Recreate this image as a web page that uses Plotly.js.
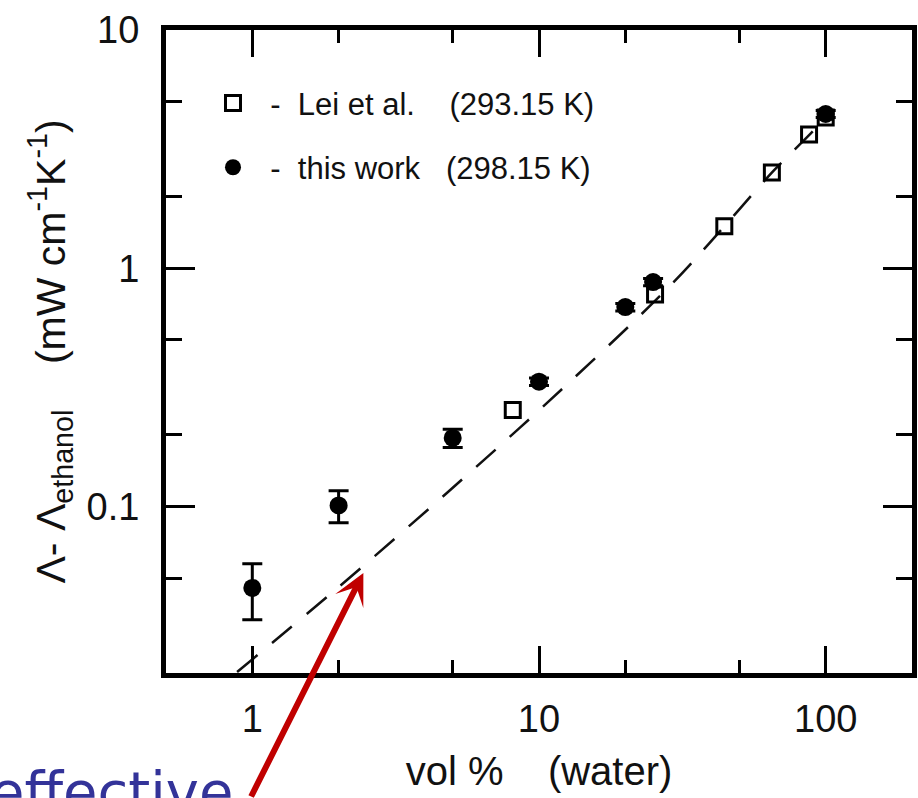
<!DOCTYPE html>
<html>
<head>
<meta charset="utf-8">
<script src="https://cdn.plot.ly/plotly-3.0.1.min.js"></script>
<style>
  html, body { margin: 0; padding: 0; background: #ffffff; }
  #chart { width: 918px; height: 798px; }
</style>
</head>
<body>
<div id="chart"></div>
<script>
// ---- data ----
const leiX = [8.1, 25.4, 44.3, 64.9, 87.5, 100];
const leiY = [0.254, 0.775, 1.50, 2.52, 3.64, 4.29];

const workX = [1, 2, 5, 10, 20, 25, 100];
const workY = [0.0455, 0.101, 0.194, 0.334, 0.687, 0.875, 4.44];
const workErr = [0.012, 0.0155, 0.017, 0.012, 0.025, 0.03, 0.15];

const fitX = [0.885, 1.92, 4.89, 12.1, 29.3, 44.3, 66.1, 87.5, 100];
const fitY = [0.0202, 0.044, 0.117, 0.313, 0.867, 1.50, 2.58, 3.62, 4.30];

const xTickVals = [1, 10, 100];
const xTickText = ['1', '10', '100'];
const xMinorVals = [2, 5, 20, 50];
const yTickVals = [0.1, 1, 10];
const yTickText = ['0.1', '1', '10'];
const yMinorVals = [0.05, 0.2, 0.5, 2, 5];

const leiName = '\u00A0\u00A0-\u00A0\u00A0Lei et al.\u00A0\u00A0\u00A0\u00A0(293.15 K)';
const workName = '\u00A0\u00A0-\u00A0\u00A0this work\u00A0\u00A0\u00A0(298.15 K)';

const FONT = '"Liberation Sans", Arial, Helvetica, sans-serif';

const traces = [
  {
    x: fitX, y: fitY, mode: 'lines', type: 'scatter',
    line: { color: '#111', width: 2.5, dash: '26px,19px', shape: 'spline' },
    showlegend: false, hoverinfo: 'skip'
  },
  {
    x: leiX, y: leiY, mode: 'markers', type: 'scatter', name: leiName,
    legendgroup: 'a',
    marker: { symbol: 'square-open', size: 15, color: '#000', line: { width: 3, color: '#000' } }
  },
  {
    x: workX, y: workY, mode: 'markers', type: 'scatter', name: workName,
    legendgroup: 'b',
    marker: { symbol: 'circle', size: 18, color: '#000' },
    error_y: { type: 'data', array: workErr, visible: true, color: '#000', thickness: 3, width: 10 }
  }
];

const axisCommon = {
  type: 'log',
  showline: true, linewidth: 5, linecolor: '#000', mirror: 'allticks',
  ticks: 'inside', tickwidth: 3, tickcolor: '#000',
  showgrid: false, zeroline: false,
  tickfont: { family: FONT, size: 38, color: '#111' },
  tickmode: 'array'
};

const layout = {
  width: 918, height: 798,
  margin: { l: 166, r: 6, t: 30, b: 125 },
  paper_bgcolor: '#fff', plot_bgcolor: '#fff',
  font: { family: FONT, color: '#111' },
  showlegend: true,
  legend: {
    x: 0.063, y: 0.928, xanchor: 'left', yanchor: 'top',
    font: { family: FONT, size: 31, color: '#111' },
    bgcolor: 'rgba(0,0,0,0)', borderwidth: 0,
    tracegroupgap: 21, traceorder: 'grouped', itemsizing: 'trace'
  },
  xaxis: Object.assign({}, axisCommon, {
    range: [Math.log10(0.5), Math.log10(200)],
    tickvals: xTickVals, ticktext: xTickText, ticklen: 27,
    ticklabelstandoff: 8,
    minor: { tickmode: 'array', tickvals: xMinorVals, ticks: 'inside', ticklen: 13, tickwidth: 3, tickcolor: '#000', showgrid: false },
    title: { text: 'vol\u00A0%\u00A0\u00A0\u00A0\u00A0(water)', font: { family: FONT, size: 40, color: '#111' }, standoff: 20 }
  }),
  yaxis: Object.assign({}, axisCommon, {
    range: [Math.log10(0.02), 1],
    tickvals: yTickVals, ticktext: yTickText, ticklen: 29,
    ticklabelstandoff: 14,
    minor: { tickmode: 'array', tickvals: yMinorVals, ticks: 'inside', ticklen: 16, tickwidth: 3, tickcolor: '#000', showgrid: false },
    title: {
      text: 'Λ-\u00A0Λ<sub>ethanol</sub>\u00A0\u00A0\u00A0\u00A0(mW cm<sup>-1</sup>K<sup>-1</sup>)',
      font: { family: FONT, size: 41, color: '#111' }, standoff: 10
    }
  }),
  annotations: [
    {
      xref: 'x', yref: 'y',
      x: Math.log10(2.44), y: Math.log10(0.0526),
      ax: -113, ay: 233, axref: 'pixel', ayref: 'pixel',
      text: '', showarrow: true,
      arrowhead: 3, arrowsize: 0.87, arrowwidth: 6, arrowcolor: '#c00000', standoff: 0
    },
    {
      xref: 'paper', yref: 'paper',
      x: 0.093, y: -0.131, xanchor: 'right', yanchor: 'top',
      text: 'effective', showarrow: false,
      font: { family: '"DejaVu Sans", Verdana, sans-serif', size: 56, color: '#333399' }
    }
  ]
};

Plotly.newPlot('chart', traces, layout, { displayModeBar: false, staticPlot: true });
</script>
</body>
</html>
